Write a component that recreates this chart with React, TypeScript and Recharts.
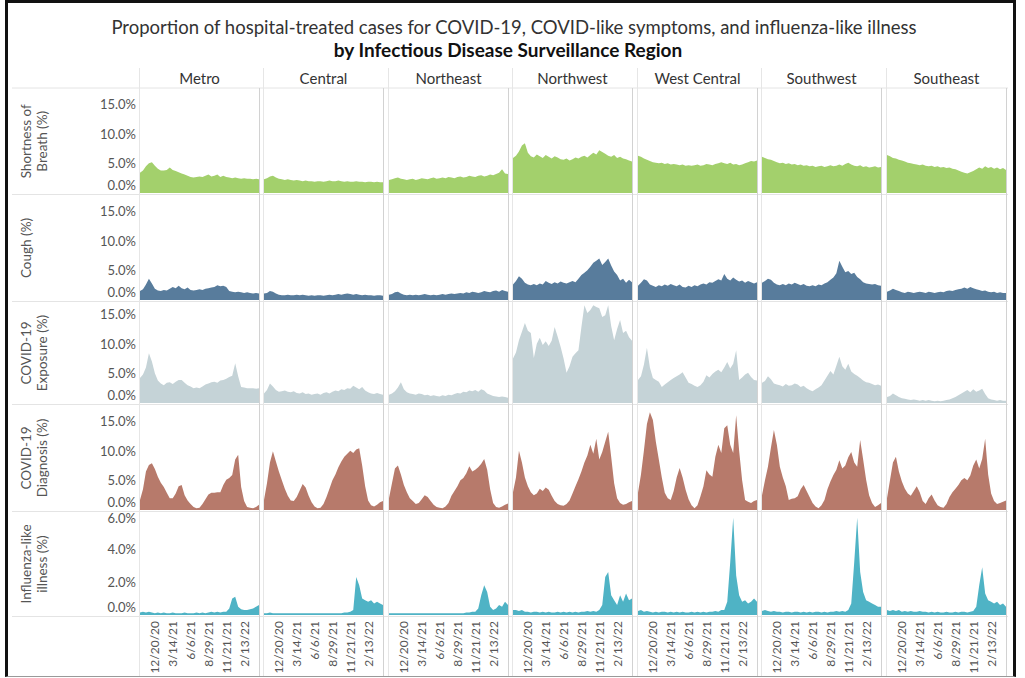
import { Area, AreaChart, XAxis, YAxis } from 'recharts';

const regions = ['Metro', 'Central', 'Northeast', 'Northwest', 'West Central', 'Southwest', 'Southeast'];

// weeks since 10/11/20, one point every two weeks
const weekOffsets = [
  0, 2, 4, 6, 8, 10, 12, 14, 16, 18, 20, 22, 24, 26, 28, 30, 32, 34, 36, 38, 40,
  42, 44, 46, 48, 50, 52, 54, 56, 58, 60, 62, 64, 66, 68, 70, 72, 74, 76, 78, 80,
];
const tickWeeks = [10, 22, 34, 46, 58, 70];
const tickLabels = ['12/20/20', '3/14/21', '6/6/21', '8/29/21', '11/21/21', '2/13/22'];

// Shortness of breath (%)
const sobMetro = [3.4, 3.8, 4.5, 5.0, 5.2, 4.6, 4.1, 3.8, 3.8, 3.9, 4.3, 3.9, 3.7, 3.5, 3.3, 3.1, 2.9, 2.7, 2.6, 2.7, 2.8, 2.7, 2.9, 3.1, 2.8, 2.9, 3.1, 2.7, 2.9, 2.7, 2.6, 2.5, 2.6, 2.5, 2.4, 2.5, 2.4, 2.4, 2.3, 2.4, 2.3];
const sobCentral = [2.3, 2.5, 2.8, 2.9, 2.6, 2.4, 2.3, 2.2, 2.3, 2.2, 2.1, 2.2, 2.1, 2.0, 2.1, 2.0, 2.0, 1.9, 2.0, 2.0, 1.9, 2.0, 2.1, 2.0, 2.0, 2.1, 2.0, 1.9, 2.0, 1.9, 1.9, 2.0, 1.9, 1.9, 1.8, 1.9, 1.9, 1.8, 1.9, 1.8, 1.8];
const sobNortheast = [2.2, 2.3, 2.5, 2.6, 2.4, 2.3, 2.2, 2.3, 2.4, 2.2, 2.3, 2.5, 2.4, 2.3, 2.5, 2.6, 2.4, 2.5, 2.6, 2.5, 2.7, 2.6, 2.5, 2.7, 2.8, 2.6, 2.7, 2.9, 2.8, 2.7, 2.9, 3.0, 2.8, 2.9, 3.1, 3.0, 3.2, 3.4, 4.0, 3.3, 3.2];
const sobNorthwest = [5.9, 6.3, 7.0, 8.0, 8.4, 6.8, 6.2, 6.0, 6.5, 6.2, 5.9, 6.4, 6.1, 5.8, 6.2, 6.0, 5.7, 5.6, 5.8, 5.5, 5.7, 6.0, 5.8, 6.1, 6.3, 6.0, 6.4, 6.8, 6.5, 7.2, 6.9, 6.6, 6.3, 6.1, 6.4, 5.9, 6.1, 5.8, 5.7, 5.5, 5.3];
const sobWestCentral = [6.3, 6.1, 5.8, 5.6, 5.4, 5.2, 5.1, 5.0, 5.1, 4.9, 5.0, 4.8, 4.9, 4.8, 4.7, 4.8, 4.6, 4.7, 4.6, 4.7, 4.8, 4.6, 4.7, 4.9, 4.8, 4.7, 4.9, 5.0, 5.2, 5.0, 4.9, 5.1, 4.8, 4.9, 4.7, 4.8, 5.0, 5.2, 5.4, 5.3, 5.5];
const sobSouthwest = [6.1, 5.9, 5.7, 5.6, 5.4, 5.2, 5.0, 5.1, 4.9, 5.0, 4.8, 4.9, 4.7, 4.8, 4.6, 4.7, 4.5, 4.6, 4.4, 4.5, 4.6, 4.4, 4.5, 4.7, 4.5, 4.6, 4.8, 4.6, 4.9, 5.1, 4.8, 4.6, 4.5, 4.7, 4.4, 4.5, 4.3, 4.4, 4.5, 4.3, 4.4];
const sobSoutheast = [6.4, 6.2, 5.9, 5.8, 5.6, 5.5, 5.3, 5.1, 5.0, 4.9, 4.8, 4.7, 4.8, 4.6, 4.5, 4.6, 4.4, 4.5, 4.3, 4.4, 4.2, 4.3, 4.1, 4.0, 3.8, 3.6, 3.4, 3.3, 3.5, 3.7, 4.0, 4.3, 4.1, 4.5, 4.2, 4.4, 4.1, 4.3, 4.0, 4.2, 3.9];

// Cough (%)
const coughMetro = [1.5, 1.8, 2.6, 3.6, 2.8, 1.9, 1.6, 1.5, 1.7, 1.6, 1.9, 2.2, 2.0, 2.4, 2.0, 1.8, 2.1, 1.7, 1.6, 1.7, 1.8, 1.7, 1.9, 2.0, 2.1, 2.2, 2.5, 2.3, 2.4, 2.2, 1.5, 1.4, 1.3, 1.4, 1.3, 1.2, 1.3, 1.2, 1.1, 1.2, 1.1];
const coughCentral = [1.1, 1.2, 1.5, 1.4, 1.1, 0.9, 0.8, 0.8, 0.9, 0.8, 0.8, 0.9, 0.8, 0.9, 0.8, 0.7, 0.8, 0.7, 0.8, 0.8, 0.7, 0.8, 0.9, 0.8, 0.9, 1.0, 0.9, 1.0, 1.1, 1.0, 0.9, 1.0, 0.9, 0.8, 0.9, 0.8, 0.8, 0.7, 0.8, 0.8, 0.7];
const coughNortheast = [0.9, 1.0, 1.3, 1.4, 1.1, 0.9, 0.8, 0.9, 0.8, 0.9, 0.8, 0.9, 1.0, 0.9, 0.8, 0.9, 0.8, 0.9, 1.0, 0.9, 1.0, 1.1, 1.0, 1.1, 1.2, 1.1, 1.3, 1.2, 1.4, 1.3, 1.2, 1.3, 1.5, 1.4, 1.3, 1.5, 1.6, 1.4, 1.7, 1.5, 1.4];
const coughNorthwest = [2.6, 3.2, 4.0, 3.6, 2.9, 2.6, 2.5, 2.7, 2.5, 2.8, 2.6, 3.2, 2.9, 2.7, 3.0, 2.8, 3.1, 2.9, 2.8, 3.0, 3.2, 3.0, 3.6, 4.2, 4.6, 5.0, 5.6, 6.3, 6.6, 7.0, 5.9, 6.4, 7.0, 5.8, 4.8, 4.2, 3.3, 3.6, 2.9, 3.4, 3.0];
const coughWestCentral = [2.4, 2.9, 3.5, 3.3, 2.6, 2.4, 2.2, 2.5, 2.3, 2.6, 2.4, 2.7, 2.5, 2.3, 2.6, 2.2, 2.1, 2.4, 2.2, 2.5, 2.3, 2.6, 2.8, 2.6, 3.0, 2.9, 3.2, 3.5, 3.3, 4.4, 3.6, 3.3, 3.8, 3.4, 3.1, 3.3, 2.9, 3.2, 3.0, 2.8, 3.0];
const coughSouthwest = [2.9, 3.2, 3.6, 3.4, 2.9, 2.6, 2.5, 2.7, 2.5, 2.8, 2.6, 2.9, 2.7, 2.5, 2.7, 2.4, 2.3, 2.5, 2.3, 2.6, 2.5, 2.8, 3.0, 3.4, 3.8, 4.5, 6.6, 5.6, 4.7, 4.9, 4.4, 4.6, 3.9, 3.5, 3.0, 2.8, 2.7, 2.6, 2.7, 2.5, 2.4];
const coughSoutheast = [1.4, 1.6, 1.9, 1.7, 1.5, 1.3, 1.2, 1.4, 1.3, 1.2, 1.3, 1.4, 1.3, 1.2, 1.4, 1.3, 1.2, 1.3, 1.4, 1.3, 1.5, 1.6, 1.5, 1.7, 1.8, 1.9, 2.1, 1.9, 2.2, 2.0, 1.8, 1.7, 1.5, 1.6, 1.4, 1.3, 1.4, 1.2, 1.3, 1.2, 1.2];

// COVID-19 exposure (%)
const expMetro = [4.2, 4.8, 6.0, 8.4, 7.0, 5.0, 3.8, 3.3, 3.0, 3.4, 3.5, 3.2, 3.6, 3.9, 3.9, 3.4, 3.0, 2.8, 2.5, 2.6, 2.5, 2.8, 3.1, 3.3, 3.5, 3.6, 3.4, 3.8, 3.9, 4.1, 4.4, 4.6, 6.7, 4.5, 2.7, 2.6, 2.5, 2.5, 2.5, 2.4, 2.5];
const expCentral = [1.6, 2.2, 3.3, 2.8, 2.2, 1.9, 2.0, 2.1, 1.9, 1.8, 2.0, 1.7, 1.6, 1.8, 1.5, 1.6, 1.4, 1.5, 1.6, 1.4, 1.7, 1.8, 1.6, 1.9, 2.1, 2.0, 2.3, 2.2, 2.5, 2.4, 2.9, 2.6, 2.3, 2.7, 2.1, 1.8, 1.6, 1.5, 1.7, 1.5, 1.4];
const expNortheast = [1.4, 1.6, 2.0, 2.6, 3.5, 2.3, 1.8, 1.6, 1.5, 1.4, 1.6, 1.5, 1.3, 1.4, 1.2, 1.3, 1.2, 1.1, 1.3, 1.2, 1.4, 1.3, 1.5, 1.7, 1.6, 1.9, 1.8, 2.1, 2.0, 2.2, 1.9, 2.3, 2.1, 1.6, 1.4, 1.2, 1.1, 1.0, 1.1, 1.0, 0.9];
const expNorthwest = [7.5, 8.5, 10.6, 12.0, 13.5, 12.2, 11.8, 7.6, 10.0, 11.0, 9.8, 10.4, 9.6, 10.5, 12.8, 11.2, 9.5, 7.5, 5.1, 6.2, 7.8, 8.4, 8.9, 12.8, 16.5, 15.2, 15.7, 16.5, 16.2, 16.0, 14.5, 14.8, 16.5, 13.0, 10.6, 12.5, 14.0, 11.8, 12.2, 11.1, 10.5];
const expWestCentral = [3.9, 4.5, 6.5, 9.3, 6.0, 4.2, 3.9, 3.6, 2.7, 3.1, 3.5, 3.9, 4.2, 4.5, 4.8, 5.2, 4.3, 3.4, 3.2, 2.9, 2.7, 3.0, 3.6, 4.7, 4.3, 4.9, 5.3, 5.6, 5.2, 6.0, 6.9, 5.8, 6.6, 8.9, 3.9, 4.3, 4.8, 5.1, 4.4, 3.9, 3.8];
const expSouthwest = [3.4, 3.7, 4.5, 4.0, 3.3, 3.1, 3.0, 2.8, 3.2, 2.9, 3.0, 3.3, 3.1, 2.7, 2.9, 2.5, 2.2, 2.0, 2.3, 2.6, 3.0, 3.8, 4.6, 5.4, 4.8, 6.3, 7.8, 6.2, 5.6, 6.6, 5.3, 4.9, 4.6, 4.2, 3.8, 3.5, 3.4, 3.2, 3.0, 3.1, 2.9];
const expSoutheast = [1.0, 1.2, 1.6, 1.3, 1.0, 0.8, 0.7, 0.6, 0.5, 0.6, 0.5, 0.4, 0.5, 0.4, 0.5, 0.4, 0.3, 0.4, 0.3, 0.4, 0.5, 0.6, 0.8, 1.0, 1.3, 1.6, 1.9, 2.2, 1.8, 2.3, 1.9, 2.1, 2.4, 1.5, 0.8, 0.6, 0.5, 0.4, 0.5, 0.4, 0.4];

// COVID-19 diagnosis (%)
const diagMetro = [1.7, 3.5, 6.5, 7.6, 7.9, 6.9, 5.6, 4.6, 3.9, 2.9, 2.0, 2.0, 2.8, 4.0, 4.2, 2.5, 1.6, 1.0, 0.5, 0.3, 0.4, 1.0, 1.8, 2.6, 2.9, 2.9, 3.0, 3.0, 4.2, 5.1, 5.4, 5.9, 8.5, 9.3, 3.9, 1.5, 0.5, 0.4, 0.3, 0.5, 0.9];
const diagCentral = [1.7, 4.5, 8.0, 9.9, 8.2, 6.5, 5.0, 3.6, 2.4, 1.6, 1.5, 2.2, 3.3, 4.4, 3.8, 2.4, 1.3, 0.6, 0.3, 0.4, 1.0, 2.2, 3.6, 5.0, 6.0, 7.2, 8.2, 9.0, 9.5, 10.0, 9.6, 10.2, 10.4, 7.5, 4.0, 1.6, 0.8, 0.6, 0.9, 1.3, 1.5];
const diagNortheast = [2.0, 4.5, 7.0, 7.5, 6.0, 4.2, 3.0, 2.0, 1.5, 1.0, 1.2, 1.8, 2.5, 2.2, 1.5, 0.9, 0.5, 0.4, 0.3, 0.6, 1.2, 2.4, 3.2, 4.0, 5.0, 5.4, 6.2, 7.4, 6.5, 6.8, 7.2, 7.8, 8.6, 6.8, 3.5, 1.2, 0.5, 0.4, 0.6, 0.9, 1.1];
const diagNorthwest = [3.0, 5.5, 10.0, 8.0, 5.5, 4.0, 3.0, 2.5, 2.8, 3.6, 3.2, 3.8, 3.4, 2.4, 1.5, 1.0, 0.8, 0.7, 1.0, 1.6, 2.8, 4.0, 5.2, 6.5, 8.0, 9.2, 11.0, 9.5, 12.0, 8.5, 9.8, 11.5, 13.2, 9.0, 4.5, 2.0, 1.2, 0.9, 1.0, 1.3, 1.5];
const diagWestCentral = [2.9, 6.0, 10.1, 14.5, 16.5, 15.2, 11.5, 8.5, 5.5, 2.9, 2.0, 1.7, 3.2, 5.5, 7.1, 5.5, 3.4, 1.8, 0.8, 0.3, 0.8, 2.3, 4.0, 6.7, 6.0, 5.6, 9.0, 11.0, 9.6, 13.8, 14.3, 11.0, 9.6, 16.0, 10.0, 5.0, 1.7, 1.4, 1.2, 1.5, 1.7];
const diagSouthwest = [2.5, 5.0, 7.3, 10.5, 13.5, 11.0, 7.3, 5.5, 4.0, 1.7, 1.9, 2.0, 2.3, 3.5, 4.2, 3.2, 2.2, 1.2, 0.6, 0.3, 0.8, 1.7, 3.5, 4.8, 5.9, 6.8, 8.4, 7.0, 7.5, 8.9, 9.8, 8.0, 7.3, 11.8, 8.5, 5.1, 2.5, 1.2, 0.5, 0.8, 1.2];
const diagSoutheast = [2.0, 5.0, 8.0, 9.0, 6.5, 4.8, 3.6, 2.8, 2.4, 3.2, 4.0, 3.0, 1.5, 1.0, 2.0, 2.6, 1.6, 0.8, 0.5, 0.4, 1.0, 2.2, 3.0, 3.6, 4.2, 5.0, 5.4, 5.0, 5.8, 7.5, 8.5, 7.0, 8.6, 12.0, 6.0, 2.8, 1.5, 1.0, 1.2, 1.4, 1.6];

// Influenza-like illness (%)
const iliMetro = [0.15, 0.2, 0.15, 0.2, 0.15, 0.1, 0.15, 0.1, 0.15, 0.1, 0.1, 0.15, 0.1, 0.1, 0.1, 0.15, 0.1, 0.1, 0.1, 0.15, 0.1, 0.15, 0.1, 0.15, 0.2, 0.15, 0.2, 0.15, 0.2, 0.2, 0.4, 1.0, 1.1, 0.5, 0.35, 0.3, 0.3, 0.35, 0.4, 0.5, 0.6];
const iliCentral = [0.1, 0.1, 0.15, 0.1, 0.1, 0.1, 0.1, 0.1, 0.1, 0.1, 0.1, 0.1, 0.1, 0.1, 0.1, 0.1, 0.1, 0.1, 0.1, 0.1, 0.1, 0.1, 0.1, 0.1, 0.1, 0.1, 0.1, 0.15, 0.15, 0.2, 0.3, 2.3, 1.8, 1.0, 0.9, 0.8, 0.9, 0.7, 0.8, 0.7, 0.6];
const iliNortheast = [0.1, 0.1, 0.1, 0.1, 0.1, 0.1, 0.1, 0.1, 0.1, 0.1, 0.1, 0.1, 0.1, 0.1, 0.1, 0.1, 0.1, 0.1, 0.1, 0.1, 0.1, 0.1, 0.1, 0.1, 0.1, 0.1, 0.15, 0.15, 0.2, 0.2, 0.4, 1.2, 1.8, 1.4, 0.5, 0.3, 0.4, 0.6, 0.5, 0.8, 0.6];
const iliNorthwest = [0.3, 0.3, 0.25, 0.3, 0.2, 0.2, 0.15, 0.2, 0.2, 0.15, 0.2, 0.15, 0.2, 0.15, 0.15, 0.2, 0.15, 0.2, 0.15, 0.2, 0.15, 0.2, 0.15, 0.2, 0.2, 0.25, 0.2, 0.25, 0.2, 0.3, 0.6, 2.3, 2.6, 1.2, 0.9, 0.6, 1.2, 0.8, 1.3, 0.9, 1.0];
const iliWestCentral = [0.25, 0.3, 0.2, 0.25, 0.2, 0.15, 0.2, 0.15, 0.2, 0.2, 0.15, 0.2, 0.15, 0.2, 0.15, 0.2, 0.15, 0.15, 0.2, 0.15, 0.2, 0.15, 0.2, 0.15, 0.2, 0.2, 0.25, 0.2, 0.3, 0.3, 0.8, 3.2, 5.9, 2.4, 1.2, 0.8, 0.9, 0.7, 0.8, 1.0, 0.8];
const iliSouthwest = [0.25, 0.3, 0.25, 0.2, 0.25, 0.2, 0.2, 0.15, 0.2, 0.2, 0.15, 0.2, 0.2, 0.15, 0.2, 0.15, 0.2, 0.15, 0.2, 0.2, 0.15, 0.2, 0.15, 0.2, 0.2, 0.25, 0.2, 0.25, 0.2, 0.3, 0.7, 3.2, 5.9, 2.6, 1.4, 0.9, 0.8, 0.7, 0.6, 0.5, 0.5];
const iliSoutheast = [0.3, 0.25, 0.3, 0.25, 0.3, 0.2, 0.25, 0.2, 0.25, 0.2, 0.2, 0.25, 0.2, 0.2, 0.15, 0.2, 0.15, 0.2, 0.15, 0.15, 0.2, 0.15, 0.15, 0.2, 0.15, 0.2, 0.2, 0.15, 0.2, 0.25, 0.5, 1.8, 2.9, 1.3, 0.9, 0.8, 0.7, 0.8, 0.6, 0.7, 0.5];

const metrics = [
  { label: ['Shortness of', 'Breath (%)'], color: '#a3d06c', max: 16.7, ticks: [0, 5, 10, 15], series: [sobMetro, sobCentral, sobNortheast, sobNorthwest, sobWestCentral, sobSouthwest, sobSoutheast] },
  { label: ['Cough (%)'], color: '#587c9c', max: 16.7, ticks: [0, 5, 10, 15], series: [coughMetro, coughCentral, coughNortheast, coughNorthwest, coughWestCentral, coughSouthwest, coughSoutheast] },
  { label: ['COVID-19', 'Exposure (%)'], color: '#c5d3d7', max: 16.7, ticks: [0, 5, 10, 15], series: [expMetro, expCentral, expNortheast, expNorthwest, expWestCentral, expSouthwest, expSoutheast] },
  { label: ['COVID-19', 'Diagnosis (%)'], color: '#b77a6b', max: 16.7, ticks: [0, 5, 10, 15], series: [diagMetro, diagCentral, diagNortheast, diagNorthwest, diagWestCentral, diagSouthwest, diagSoutheast] },
  { label: ['Influenza-like', 'illness (%)'], color: '#4fb3c5', max: 6.0, ticks: [0, 2, 4, 6], series: [iliMetro, iliCentral, iliNortheast, iliNorthwest, iliWestCentral, iliSouthwest, iliSoutheast] },
];

const FONT = 'Lato, "Open Sans", sans-serif';
const PANEL_W = 119;
const PLOT_H = 99;
const PAD = 9; // room above the plot so the top tick label is not clipped
const Y_W = 60;
const X_H = 60;
const colLefts = [140, 264, 389, 513, 638, 762, 887];
const baselines = [193, 300, 403, 510, 615];
const rowLines = [88, 194.5, 301.5, 404.5, 511.5, 616.5];

function PctTick(props: any) {
  const { y, payload } = props;
  // bottom label sits above the baseline, like the original
  let dy = 0;
  if (payload.value === 0) dy = -8;
  else if (payload.value === 6) dy = 2;
  return (
    <text x={Y_W - 4} y={y + dy} textAnchor="end" dominantBaseline="central" fontSize={13} fontFamily={FONT} fill="#555">
      {payload.value.toFixed(1)}%
    </text>
  );
}

function DateTick(props: any) {
  const { x, payload } = props;
  const y = PAD + PLOT_H + 6;
  const label = tickLabels[tickWeeks.indexOf(payload.value)];
  return (
    <text x={x} y={y} transform={`rotate(-90 ${x} ${y})`} textAnchor="end" dominantBaseline="central" fontSize={12} fontFamily={FONT} fill="#555">
      {label}
    </text>
  );
}

type PanelProps = {
  values: number[];
  color: string;
  max: number;
  ticks: number[];
  left: number;
  top: number;
  showY: boolean;
  showX: boolean;
};

function Panel({ values, color, max, ticks, left, top, showY, showX }: PanelProps) {
  const data = weekOffsets.map((week, i) => ({ week, value: values[i] }));
  const yw = showY ? Y_W : 0;
  const xh = showX ? X_H : 0;
  return (
    <div style={{ position: 'absolute', left: left - yw, top: top - PAD }}>
      <AreaChart width={PANEL_W + yw} height={PAD + PLOT_H + xh} data={data} margin={{ top: PAD, right: 0, bottom: 0, left: 0 }}>
        <XAxis
          dataKey="week"
          type="number"
          domain={[0, 80]}
          ticks={tickWeeks}
          interval={0}
          hide={!showX}
          height={xh}
          axisLine={false}
          tickLine={false}
          tick={(p: any) => <DateTick {...p} />}
        />
        <YAxis
          type="number"
          domain={[0, max]}
          ticks={ticks}
          interval={0}
          hide={!showY}
          width={yw}
          axisLine={false}
          tickLine={false}
          tick={(p: any) => <PctTick {...p} />}
        />
        <Area dataKey="value" type="linear" stroke="none" fill={color} fillOpacity={1} isAnimationActive={false} />
      </AreaChart>
    </div>
  );
}

export default function App() {
  return (
    <div style={{ position: 'absolute', left: 0, top: 0, width: 1025, height: 678, background: '#fff', fontFamily: FONT }}>
      <svg width={1025} height={678} style={{ position: 'absolute', left: 0, top: 0 }}>
        <text x={514} y={34} textAnchor="middle" fontSize={18.5} fill="#333" fontFamily={FONT}>
          Proportion of hospital-treated cases for COVID-19, COVID-like symptoms, and influenza-like illness
        </text>
        <text x={508} y={56.5} textAnchor="middle" fontSize={19} fontWeight="bold" fill="#111" fontFamily={FONT}>
          by Infectious Disease Surveillance Region
        </text>
        {rowLines.map((y) => (
          <line key={y} x1={12} x2={1008} y1={y} y2={y} stroke="#e4e4e4" strokeWidth={1} />
        ))}
        {colLefts.map((x, i) => (
          <g key={regions[i]}>
            <line x1={x - 0.5} x2={x - 0.5} y1={68} y2={677} stroke="#e6e6e6" />
            <line x1={x + PANEL_W + 0.5} x2={x + PANEL_W + 0.5} y1={88} y2={677} stroke="#d2d2d2" />
            <text x={x + PANEL_W / 2} y={83.5} textAnchor="middle" fontSize={15} fill="#333" fontFamily={FONT}>
              {regions[i]}
            </text>
          </g>
        ))}
        {metrics.map((m, r) => {
          const cy = (rowLines[r] + rowLines[r + 1]) / 2;
          return m.label.map((line, k) => {
            const x = 26 + k * 16;
            return (
              <text key={line + r} x={x} y={cy} transform={`rotate(-90 ${x} ${cy})`} textAnchor="middle" dominantBaseline="central" fontSize={13.5} fill="#555" fontFamily={FONT}>
                {line}
              </text>
            );
          });
        })}
      </svg>
      {metrics.map((m, r) =>
        m.series.map((values, c) => (
          <Panel
            key={`${r}-${c}`}
            values={values}
            color={m.color}
            max={m.max}
            ticks={m.ticks}
            left={colLefts[c]}
            top={baselines[r] - PLOT_H}
            showY={c === 0}
            showX={r === metrics.length - 1}
          />
        )),
      )}
      <div
        style={{
          position: 'absolute',
          left: 5,
          top: 0,
          width: 1011,
          height: 677,
          boxSizing: 'border-box',
          borderLeft: '3px solid #111',
          borderTop: '3px solid #111',
          borderRight: '3px solid #111',
          borderBottom: '1px solid #999',
          pointerEvents: 'none',
        }}
      />
    </div>
  );
}
